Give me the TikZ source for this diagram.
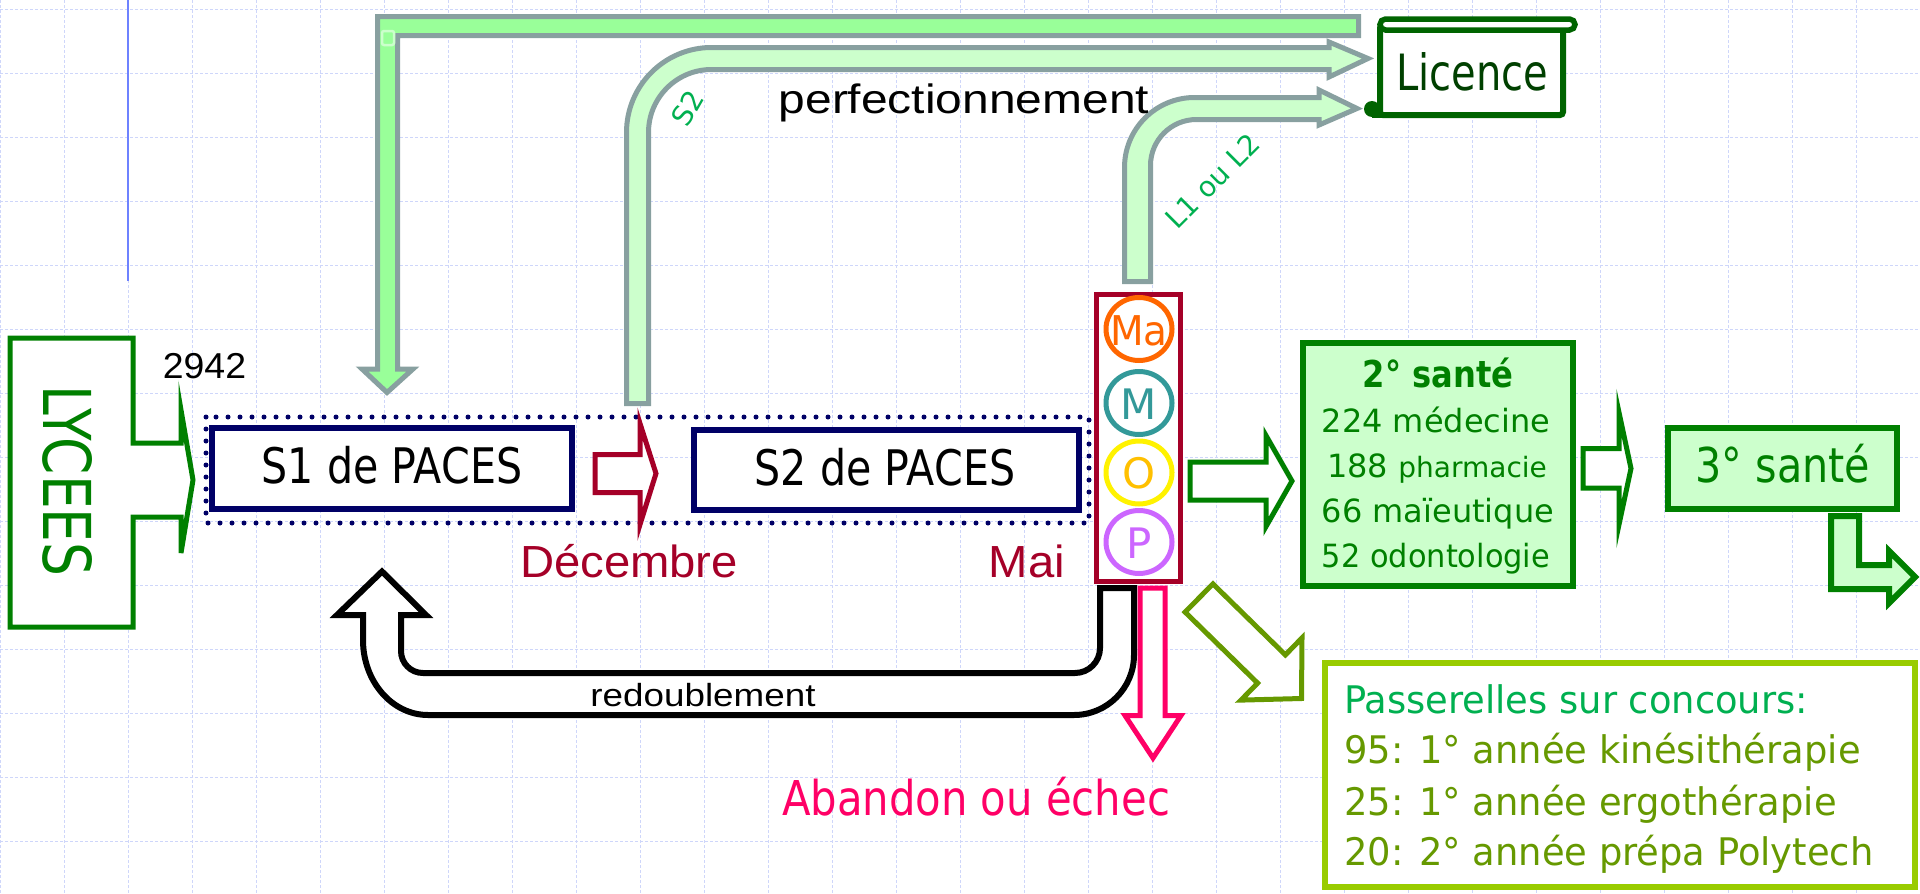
\documentclass[tikz,border=0pt]{standalone}
\usepackage{fontspec}
\setmainfont{DejaVu Sans}
\newfontfamily\ari{Liberation Sans}
\definecolor{gridc}{RGB}{206,214,250}
\definecolor{navyc}{RGB}{0,0,102}
\definecolor{crim}{RGB}{165,0,40}
\definecolor{grn}{RGB}{0,128,0}
\definecolor{dgrn}{RGB}{0,100,0}
\definecolor{ltxt}{RGB}{0,64,0}
\definecolor{lgrn}{RGB}{204,255,204}
\definecolor{mgrn}{RGB}{153,255,153}
\definecolor{grayo}{RGB}{136,160,160}
\definecolor{pinkc}{RGB}{255,0,102}
\definecolor{olivec}{RGB}{102,153,0}
\definecolor{ygc}{RGB}{153,204,0}
\definecolor{labc}{RGB}{0,176,80}
\definecolor{orngc}{RGB}{255,102,0}
\definecolor{tealc}{RGB}{51,153,153}
\definecolor{goldc}{RGB}{255,192,0}
\definecolor{violc}{RGB}{204,102,255}
\definecolor{bluel}{RGB}{110,130,255}
\newcommand\tx[3]{\scalebox{#2}[1]{\fontsize{#1}{#1}\selectfont #3}}
\begin{document}
\begin{tikzpicture}[x=1pt,y=-1pt,
  txt/.style={inner sep=0pt, anchor=base},
  blk/.style={line width=5pt, fill=white, line join=miter, miter limit=12},
  gridl/.style={gridc, line width=1pt, dash pattern=on 3pt off 2pt}]
\useasboundingbox (0,0) rectangle (1920,894);
\fill[white] (0,0) rectangle (1920,894);
% grid
\foreach \x in {0,64,...,1920} \draw[gridl] (\x,0) -- (\x,894);
\foreach \y in {9,73,...,841} \draw[gridl] (0,\y) -- (1920,\y);
\draw[bluel, line width=2.5pt] (128,0) -- (128,281);

% big top arrow down to S1
\draw[grayo, line width=5pt, fill=mgrn, line join=miter] (377.5,16.5) -- (1358.5,16.5) -- (1358.5,35.5) -- (397.5,35.5) -- (397.5,369) -- (413,369) -- (387,392.5) -- (362,369) -- (377.5,369) -- cycle;
\draw[lgrn, line width=2.5pt, fill=mgrn, rounded corners=2pt] (382,31) rectangle (394,45);

% S2 bent arrow
\draw[grayo, line width=5pt, fill=lgrn, line join=miter] (626.5,403.5) -- (626.5,132.5) .. controls (626.5,85.55) and (664.55,47.5) .. (711.5,47.5) -- (1329,47.5) -- (1329,42) -- (1368,58.5) -- (1329,77) -- (1329,69.5) -- (711.5,69.5) .. controls (676.7,69.5) and (648.5,97.7) .. (648.5,132.5) -- (648.5,403.5) -- cycle;

% L1/L2 bent arrow
\draw[grayo, line width=5pt, fill=lgrn, line join=miter] (1124.5,281.5) -- (1124.5,167.5) .. controls (1124.5,128.84) and (1155.84,97.5) .. (1194.5,97.5) -- (1319,97.5) -- (1319,90) -- (1357,108.5) -- (1319,125) -- (1319,119.5) -- (1196.5,119.5) .. controls (1171.1,119.5) and (1150.5,140.1) .. (1150.5,165.5) -- (1150.5,281.5) -- cycle;

% Licence scroll
\filldraw[fill=white, draw=dgrn, line width=6pt, rounded corners=3pt] (1380,25) rectangle (1563,115);
\filldraw[fill=white, draw=dgrn, line width=5.5pt, rounded corners=5.5pt] (1380,19) rectangle (1575,30);
\draw[dgrn, line width=6pt] (1372,115) -- (1386,115);
\fill[dgrn] (1372,109) circle (8pt);
\node[txt, text=ltxt] (licence) at (1472,90) {\tx{50}{0.8}{Licence}};

\node[txt] (perf) at (964,113) {\ari\tx{41}{1.17}{perfectionnement}};
\node[text=labc, rotate=60, inner sep=0pt] (ls2) at (688,108) {\tx{28}{1}{S2}};
\node[text=labc, rotate=45, inner sep=0pt] (ll) at (1213,181) {\tx{28}{1}{L1 ou L2}};

% LYCEES callout
\draw[grn, blk] (10,338) -- (133,338) -- (133,443) -- (181,443) -- (181,410) -- (193,480) -- (181,553) -- (181,517) -- (133,517) -- (133,627) -- (10,627) -- cycle;
\node[text=grn, rotate=-90, inner sep=0pt] (lyc) at (68,481) {\tx{66}{0.81}{LYCEES}};
\node[txt] (n2942) at (204.5,378) {\ari\tx{36}{1.04}{2942}};

% PACES
\draw[navyc, line width=5pt, line cap=round, dash pattern=on 0pt off 12pt] (206,417) rectangle (1089,523);
\draw[navyc, line width=6pt, fill=white] (212,428) rectangle (572,509);
\node[txt] (s1) at (392,483) {\tx{49}{0.84}{S1 de PACES}};
\draw[navyc, line width=6pt, fill=white] (694,430) rectangle (1079,510);
\node[txt] (s2) at (885,485) {\tx{49}{0.84}{S2 de PACES}};
\draw[crim, blk] (595,454.5) -- (640,454.5) -- (640,423.5) -- (656,473.5) -- (640,524.5) -- (640,492.5) -- (595,492.5) -- cycle;
\node[txt, text=crim] (dec) at (629,577) {\ari\tx{45}{1.05}{Décembre}};
\node[txt, text=crim] (mai) at (1027,577) {\ari\tx{45}{1.05}{Mai}};

% MOP column
\draw[crim, line width=5pt, fill=white] (1096,294) rectangle (1180,581);
\draw[orngc, line width=5pt] (1139,329) ellipse [x radius=33, y radius=31.5];
\draw[tealc, line width=5pt] (1139,403) ellipse [x radius=33, y radius=31.5];
\draw[yellow, line width=5pt] (1139,472.5) ellipse [x radius=33, y radius=31.5];
\draw[violc, line width=5pt] (1139,542) ellipse [x radius=33, y radius=31.5];
\node[txt, text=orngc] (ma) at (1139,345) {\tx{41}{0.95}{Ma}};
\node[txt, text=tealc] (mm) at (1139,419) {\tx{42}{1}{M}};
\node[txt, text=goldc] (oo) at (1139,488.5) {\tx{42}{1}{O}};
\node[txt, text=violc] (pp) at (1139,558) {\tx{42}{1}{P}};

% to 2e sante
\draw[grn, blk] (1190,462) -- (1266,462) -- (1266,435.5) -- (1292,481) -- (1266,526.5) -- (1266,500) -- (1190,500) -- cycle;
\draw[grn, line width=6pt, fill=lgrn] (1303,343) rectangle (1573,586);
\node[txt, text=grn] (t1) at (1438,387) {\bfseries\tx{37}{0.87}{2° santé}};
\node[txt, text=grn] (t2) at (1436,432) {\tx{32}{1}{224 médecine}};
\node[txt, text=grn] (t3) at (1437,477) {\tx{32}{1}{188 {\fontsize{28}{28}\selectfont pharmacie}}};
\node[txt, text=grn] (t4) at (1438,522) {\tx{32}{1}{66 maïeutique}};
\node[txt, text=grn] (t5) at (1436,567) {\tx{32}{0.95}{52 odontologie}};

% to 3e sante
\draw[grn, blk] (1583,448.5) -- (1619,448.5) -- (1619,412.5) -- (1631,468.5) -- (1619,524.5) -- (1619,488) -- (1583,488) -- cycle;
\draw[grn, line width=6pt, fill=lgrn] (1668,428) rectangle (1897,509);
\node[txt, text=grn] (t6) at (1783,482) {\tx{48}{0.86}{3° santé}};
\draw[grn, line width=6pt, fill=lgrn, line join=miter] (1831,516) -- (1831,589) -- (1889,589) -- (1889,603) -- (1915,577) -- (1889,551) -- (1889,565) -- (1859,565) -- (1859,516) -- cycle;

% redoublement U arrow
\draw[black, line width=6pt, fill=white, line join=miter] (1100,588) -- (1134,588) -- (1134,655) .. controls (1134,688.1) and (1107.1,715) .. (1074,715) -- (428,715) .. controls (392.1,715) and (363,681.4) .. (363,640) -- (363,615) -- (337,615) -- (382,571.5) -- (426,615) -- (401,615) -- (401,651) .. controls (401,663.2) and (410.8,673) .. (423,673) -- (1075,673) .. controls (1088.8,673) and (1100,661.8) .. (1100,648) -- cycle;
\node[txt] (redo) at (703,706) {\ari\tx{32}{1.15}{redoublement}};

% abandon
\draw[pinkc, blk] (1140,588) -- (1165,588) -- (1165,715.5) -- (1181,715.5) -- (1153,758) -- (1125,715.5) -- (1140,715.5) -- cycle;
\node[txt, text=pinkc] (aband) at (976,815) {\tx{48}{0.87}{Abandon ou échec}};

% passerelles
\draw[olivec, blk] (1185.1,612.1) -- (1257.6,683.1) -- (1241,700.1) -- (1301.5,698.5) -- (1302,637.9) -- (1285.4,654.9) -- (1212.9,583.9) -- cycle;
\draw[ygc, line width=6pt, fill=white] (1325,663) rectangle (1915,887);
\node[txt, anchor=base west, text=labc] (p1) at (1344,713) {\tx{38}{0.97}{Passerelles sur concours:}};
\node[txt, anchor=base west, text=olivec] (p2) at (1344,763) {\tx{38}{0.97}{95: 1° année kinésithérapie}};
\node[txt, anchor=base west, text=olivec] (p3) at (1344,815) {\tx{38}{0.97}{25: 1° année ergothérapie}};
\node[txt, anchor=base west, text=olivec] (p4) at (1344,865) {\tx{38}{0.97}{20: 2° année prépa Polytech}};
\end{tikzpicture}
\end{document}
